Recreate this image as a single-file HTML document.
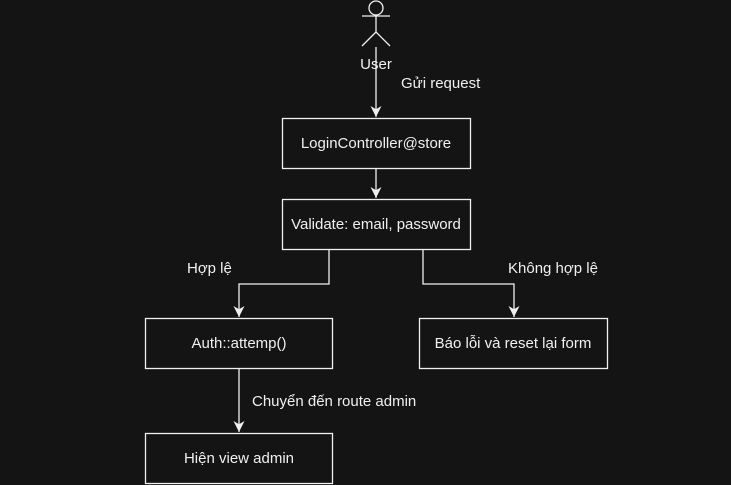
<!DOCTYPE html>
<html><head><meta charset="utf-8"><style>
html,body{margin:0;padding:0;background:#141414;width:731px;height:485px;overflow:hidden}
svg{display:block}
text{font-family:"Liberation Sans",sans-serif;font-size:15px;fill:#f0f0f0}
</style></head><body>
<svg width="731" height="485" viewBox="0 0 731 485">
<defs><marker id="a" markerWidth="11" markerHeight="11" refX="10" refY="5" orient="auto" markerUnits="userSpaceOnUse" viewBox="0 0 10 10"><path d="M0,0 L10,5 L0,10 L3,5 Z" fill="#f0f0f0"/></marker></defs>
<g stroke="#f0f0f0" stroke-width="1.3" fill="none">
<circle cx="376" cy="8" r="7"/>
<line x1="376" y1="15" x2="376" y2="32"/>
<line x1="362" y1="16" x2="390" y2="16"/>
<line x1="376" y1="32" x2="362" y2="46"/>
<line x1="376" y1="32" x2="390" y2="46"/>
<line x1="376" y1="47" x2="376" y2="117" marker-end="url(#a)"/>
<line x1="376" y1="168" x2="376" y2="198" marker-end="url(#a)"/>
<polyline points="329,249 329,284 239,284 239,317" marker-end="url(#a)"/>
<polyline points="423,249 423,284 514,284 514,317" marker-end="url(#a)"/>
<line x1="239" y1="368" x2="239" y2="432" marker-end="url(#a)"/>
<rect x="282.5" y="118.5" width="188" height="50" fill="#141414"/>
<rect x="282.5" y="199.5" width="188" height="50" fill="#141414"/>
<rect x="145.5" y="318.5" width="187" height="50" fill="#141414"/>
<rect x="419.5" y="318.5" width="188" height="50" fill="#141414"/>
<rect x="145.5" y="433.5" width="187" height="50" fill="#141414"/>
</g>
<text x="376" y="69" text-anchor="middle">User</text>
<text x="401" y="88">Gửi request</text>
<text x="376" y="148" text-anchor="middle">LoginController@store</text>
<text x="376" y="229" text-anchor="middle">Validate: email, password</text>
<text x="187" y="273">Hợp lệ</text>
<text x="508" y="273">Không hợp lệ</text>
<text x="239" y="348" text-anchor="middle">Auth::attemp()</text>
<text x="513" y="348" text-anchor="middle">Báo lỗi và reset lại form</text>
<text x="252" y="406">Chuyển đến route admin</text>
<text x="239" y="463" text-anchor="middle">Hiện view admin</text>
</svg>
</body></html>
